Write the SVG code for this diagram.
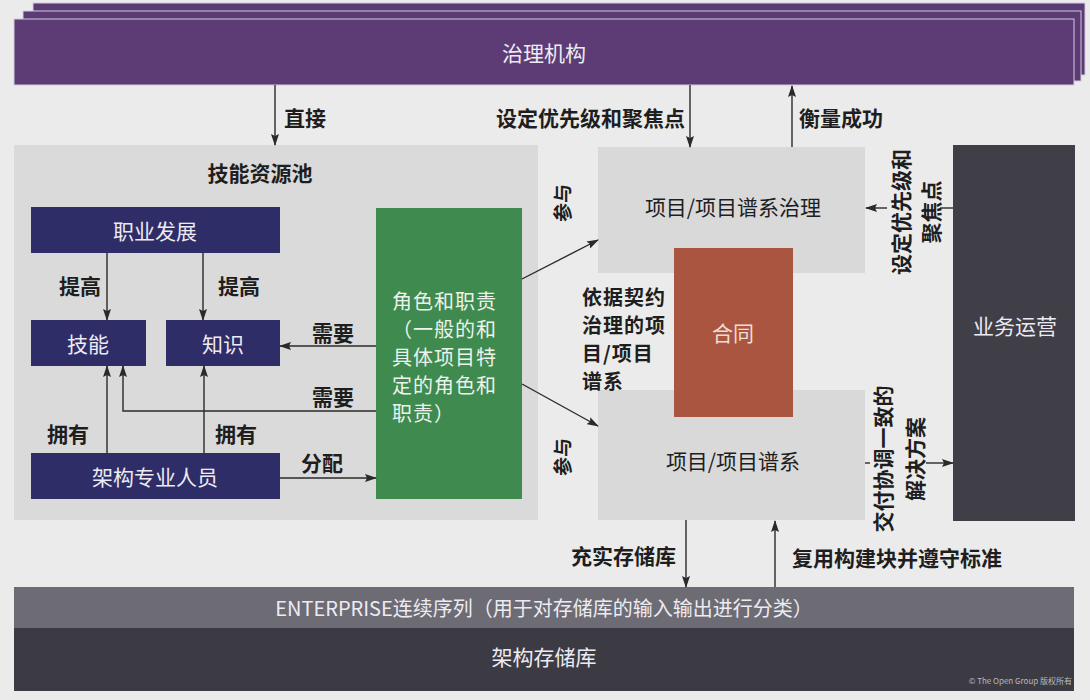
<svg xmlns="http://www.w3.org/2000/svg" width="1090" height="700" viewBox="0 0 1090 700">
<defs>
<style>
text{font-family:"Noto Sans CJK SC","Noto Sans",sans-serif;font-size:21px;dominant-baseline:central}
.lbl{fill:#1e1e1e;font-weight:700}
.wt{fill:#ecebf2;text-anchor:middle}
.mid{text-anchor:middle}
.end{text-anchor:end}
.ml{font-size:19px}
.ln{stroke:#2a2a2a;stroke-width:1.4;fill:none}
.arr{marker-end:url(#ah)}
.navy{fill:#2f2d68}
.gray{fill:#d9d9d9}
</style>
<marker id="ah" viewBox="0 0 12 8" refX="11" refY="4" markerWidth="12" markerHeight="8" markerUnits="userSpaceOnUse" orient="auto">
<path d="M0,0 L12,4 L0,8 L2,4 z" fill="#2a2a2a"/>
</marker>
</defs>
<rect width="1090" height="700" fill="#ebebeb"/>

<g id="governance">
<rect x="33" y="3" width="1052" height="72" fill="#5b3b74" stroke="#d5c9df" stroke-width="1"/>
<rect x="23" y="11" width="1058" height="70" fill="#5b3b74" stroke="#d5c9df" stroke-width="1"/>
<rect x="14" y="19" width="1060" height="66" fill="#5d3c76" stroke="#d5c9df" stroke-width="1"/>
<text class="wt" x="544" y="52">治理机构</text>
</g>

<g id="skill-pool">
<rect x="14" y="145" width="524" height="375" fill="#dadada"/>
<text class="lbl mid" x="260" y="172">技能资源池</text>
</g>

<g id="career">
<rect class="navy" x="31" y="207" width="249" height="46"/>
<text class="wt" x="155" y="230">职业发展</text>
</g>
<g id="skills">
<rect class="navy" x="31" y="320" width="115" height="46"/>
<text class="wt" x="88" y="343">技能</text>
</g>
<g id="knowledge">
<rect class="navy" x="166" y="320" width="114" height="46"/>
<text class="wt" x="223" y="343">知识</text>
</g>
<g id="architects">
<rect class="navy" x="31" y="453" width="249" height="46"/>
<text class="wt" x="155" y="476">架构专业人员</text>
</g>

<g id="roles">
<rect x="376" y="208" width="146" height="291" fill="#3f8a4f"/>
<text class="ml" fill="#ecf2ec" style="font-size:20px;letter-spacing:1px"><tspan x="392" y="300">角色和职责</tspan><tspan x="392" y="328">（一般的和</tspan><tspan x="392" y="356">具体项目特</tspan><tspan x="392" y="384">定的角色和</tspan><tspan x="392" y="412">职责）</tspan></text>
</g>

<g id="project-governance">
<rect class="gray" x="598" y="147" width="267" height="126"/>
<text class="mid" x="733" y="206" fill="#1e1e1e">项目/项目谱系治理</text>
</g>
<g id="projects">
<rect class="gray" x="598" y="390" width="267" height="130"/>
<text class="mid" x="733" y="460" fill="#1e1e1e">项目/项目谱系</text>
</g>
<g id="contract">
<rect x="674" y="248" width="119" height="169" fill="#a9553f"/>
<text class="mid" x="733" y="332" fill="#f2ddd5">合同</text>
</g>
<g id="contract-label">
<text class="lbl" style="font-size:20px;letter-spacing:1px"><tspan x="582" y="296">依据契约</tspan><tspan x="582" y="324">治理的项</tspan><tspan x="582" y="352">目/项目</tspan><tspan x="582" y="380">谱系</tspan></text>
</g>

<g id="business-ops">
<rect x="953" y="145" width="122" height="376" fill="#403f47"/>
<text class="wt" x="1015" y="325">业务运营</text>
</g>

<g id="enterprise-continuum">
<rect x="14" y="587" width="1060" height="41" fill="#6d6c74"/>
<text class="wt" x="544" y="607" style="font-size:20px">ENTERPRISE连续序列（用于对存储库的输入输出进行分类）</text>
</g>
<g id="repository">
<rect x="14" y="628" width="1060" height="63" fill="#3c3b43"/>
<text class="wt" x="544" y="656">架构存储库</text>
<text x="1072" y="680" class="end" fill="#b9b9bf" style="font-size:8px">© The Open Group 版权所有</text>
</g>

<g id="connectors">
<line class="ln arr" x1="275" y1="85" x2="275" y2="145"/>
<line class="ln arr" x1="690" y1="85" x2="690" y2="147"/>
<line class="ln arr" x1="792" y1="147" x2="792" y2="86"/>
<line class="ln arr" x1="107" y1="253" x2="107" y2="320"/>
<line class="ln arr" x1="203" y1="253" x2="203" y2="320"/>
<line class="ln arr" x1="376" y1="346" x2="280" y2="346"/>
<polyline class="ln arr" points="376,411 123,411 123,366"/>
<line class="ln arr" x1="107" y1="453" x2="107" y2="366"/>
<line class="ln arr" x1="204" y1="453" x2="204" y2="366"/>
<line class="ln arr" x1="280" y1="478" x2="376" y2="478"/>
<line class="ln arr" x1="522" y1="279" x2="598" y2="240"/>
<line class="ln arr" x1="522" y1="384" x2="598" y2="426"/>
<line class="ln" x1="953" y1="208" x2="940" y2="208"/>
<line class="ln arr" x1="887" y1="208" x2="866" y2="208"/>
<line class="ln" x1="865" y1="463" x2="870" y2="463"/>
<line class="ln arr" x1="926" y1="463" x2="953" y2="463"/>
<line class="ln arr" x1="686" y1="520" x2="686" y2="587"/>
<line class="ln arr" x1="775" y1="587" x2="775" y2="521"/>
</g>

<g id="labels">
<text class="lbl mid" x="305" y="117">直接</text>
<text class="lbl end" x="685" y="117">设定优先级和聚焦点</text>
<text class="lbl" x="799" y="117">衡量成功</text>
<text class="lbl mid" x="80" y="285">提高</text>
<text class="lbl mid" x="239" y="285">提高</text>
<text class="lbl mid" x="333" y="332">需要</text>
<text class="lbl mid" x="333" y="396">需要</text>
<text class="lbl mid" x="68" y="433">拥有</text>
<text class="lbl mid" x="236" y="433">拥有</text>
<text class="lbl mid" x="322" y="462">分配</text>
<text class="lbl mid" transform="translate(561,203) rotate(-90)" style="font-size:19px">参与</text>
<text class="lbl mid" transform="translate(561,457) rotate(-90)" style="font-size:19px">参与</text>
<text class="lbl mid" transform="translate(915,212) rotate(-90)"><tspan x="0" y="-15">设定优先级和</tspan><tspan x="0" y="15">聚焦点</tspan></text>
<text class="lbl mid" transform="translate(898,459) rotate(-90)"><tspan x="0" y="-16">交付协调一致的</tspan><tspan x="0" y="16">解决方案</tspan></text>
<text class="lbl end" x="676" y="555">充实存储库</text>
<text class="lbl" x="792" y="557">复用构建块并遵守标准</text>
</g>
</svg>
